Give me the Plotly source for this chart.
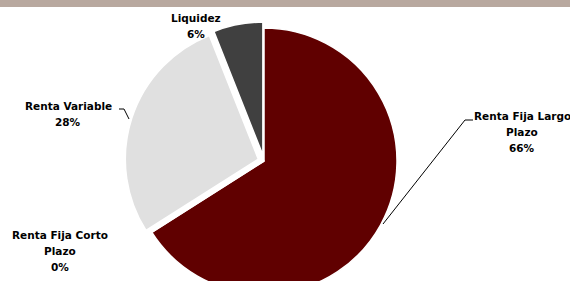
import plotly.graph_objects as go

# ---- data ----
categories = ["Renta Fija Largo Plazo", "Renta Fija Corto Plazo", "Renta Variable", "Liquidez"]
values = [66, 0, 28, 6]
label_lines = [["Renta Fija Largo", "Plazo"], ["Renta Fija Corto", "Plazo"], ["Renta Variable"], ["Liquidez"]]
colors = ["#600000", "#A6A6A6", "#E0E0E0", "#404040"]
pulls = [0, 0, 0.045, 0.045]

W, H = 570, 330          # figure taller than the 281px window: pie is clipped at bottom
cx, cy, R = 264, 161, 133  # pie centre / radius in px (from top-left)

def px(x):
    return x / W

def py(y):
    return 1 - y / H

maxpull = max(pulls)
box = 2 * R * (1 + maxpull)
dom_x = [px(cx - box / 2), px(cx + box / 2)]
dom_y = [py(cy + box / 2), py(cy - box / 2)]

fig = go.Figure(go.Pie(
    labels=categories,
    values=values,
    sort=False,
    direction="clockwise",
    rotation=0,
    pull=pulls,
    marker=dict(colors=colors, line=dict(color="white", width=1.5)),
    textinfo="none",
    hoverinfo="label+percent",
    domain=dict(x=dom_x, y=dom_y),
    showlegend=False,
))

total = sum(values)
pcts = [f"{v / total * 100:.0f}%" for v in values]

# label anchor positions (px) – first line centre, line step
label_pos = [(522, 116), (60, 235), (68, 106), (196, 18)]
step = 16
font = dict(family="DejaVu Sans", size=10.5, color="#000000")
annotations = []
for lines, pct, (lx, ly) in zip(label_lines, pcts, label_pos):
    for i, t in enumerate(lines + [pct]):
        annotations.append(dict(
            x=px(lx), y=py(ly + i * step), xref="paper", yref="paper",
            text=f"<b>{t}</b>", showarrow=False, font=font,
            xanchor="center", yanchor="middle",
        ))

shapes = [
    # top band
    dict(type="rect", xref="paper", yref="paper", x0=0, x1=1, y0=py(7), y1=1,
         fillcolor="#B8A89F", line=dict(width=0), layer="above"),
    # leader line Renta Fija Largo Plazo
    dict(type="path", xref="paper", yref="paper",
         path=f"M {px(383)},{py(224)} L {px(465)},{py(120)} L {px(473)},{py(120)}",
         line=dict(color="#000000", width=1)),
    # leader line Renta Variable
    dict(type="path", xref="paper", yref="paper",
         path=f"M {px(119)},{py(109)} L {px(124)},{py(109)} L {px(129)},{py(119)}",
         line=dict(color="#000000", width=1)),
]

fig.update_layout(
    width=W, height=H,
    margin=dict(l=0, r=0, t=0, b=0),
    paper_bgcolor="white", plot_bgcolor="white",
    annotations=annotations, shapes=shapes,
)

fig.write_html("out.html", config={"displayModeBar": False},
               post_script="document.body.style.overflow='hidden';document.body.style.margin='0';")
